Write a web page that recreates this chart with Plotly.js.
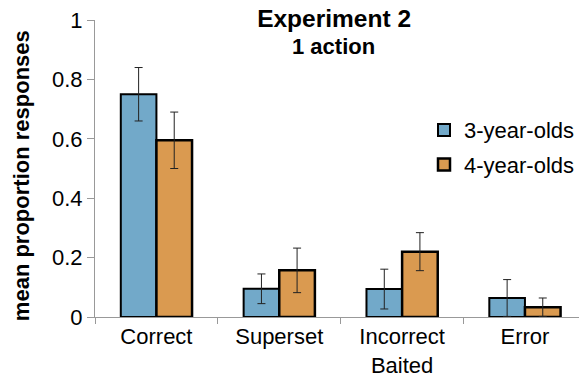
<!DOCTYPE html>
<html>
<head>
<meta charset="utf-8">
<script src="https://cdn.plot.ly/plotly-3.0.1.min.js"></script>
<style>html,body{margin:0;padding:0;background:#fff;}#chart{width:580px;height:387px;}</style>
</head>
<body>
<div id="chart"></div>
<script>
var categories = ['Correct', 'Superset', 'Incorrect<br>Baited', 'Error'];
var seriesNames = ['3-year-olds', '4-year-olds'];
var means3 = [0.75, 0.095, 0.094, 0.064];
var err3 = [0.09, 0.05, 0.067, 0.062];
var means4 = [0.595, 0.157, 0.22, 0.033];
var err4 = [0.095, 0.075, 0.064, 0.031];
var yTicks = [0, 0.2, 0.4, 0.6, 0.8, 1];
var yTickText = ['0', '0.2', '0.4', '0.6', '0.8', '1'];
var titleText = 'Experiment 2';
var subtitleText = '1 action';
var yTitleText = 'mean proportion responses';

var FONT = 'Liberation Sans, Arial, sans-serif';

function barTrace(name, y, e, fill, lw, grp) {
  return {
    type: 'bar', name: name, x: categories, y: y,
    legendgroup: grp,
    marker: {color: fill, line: {color: '#000', width: lw}},
    error_y: {type: 'data', array: e, visible: true, color: '#222', thickness: 1, width: 4}
  };
}

var data = [
  barTrace(seriesNames[0], means3, err3, '#72A9C9', 2, 'g3'),
  barTrace(seriesNames[1], means4, err4, '#DA9A50', 2.5, 'g4')
];

var layout = {
  width: 580, height: 387,
  margin: {l: 95, r: 0, t: 20, b: 70, pad: 0},
  paper_bgcolor: '#fff', plot_bgcolor: '#fff',
  font: {family: FONT, size: 22, color: '#000'},
  barmode: 'group', bargap: 0.42, bargroupgap: 0,
  showlegend: true,
  legend: {x: 0.68, xanchor: 'left', y: 0.70, yanchor: 'top',
    traceorder: 'grouped', tracegroupgap: 3,
    font: {family: FONT, size: 22, color: '#000'}, bgcolor: 'rgba(0,0,0,0)'},
  title: {
    text: '<b>' + titleText + '</b>',
    font: {family: FONT, size: 24.5, color: '#000'},
    x: 0.576, xanchor: 'center', xref: 'container', y: 0.953, yanchor: 'middle', yref: 'container'
  },
  xaxis: {
    range: [-0.5, 3.44], fixedrange: true,
    showline: true, linecolor: '#999', linewidth: 1,
    ticks: 'outside', tickson: 'boundaries', ticklen: 6, tickcolor: '#999',
    showgrid: false, zeroline: false,
    tickfont: {family: FONT, size: 22, color: '#000'}
  },
  yaxis: {
    range: [0, 1], tickvals: yTicks, ticktext: yTickText,
    showline: true, linecolor: '#999', linewidth: 1,
    ticks: 'outside', ticklen: 7, tickcolor: '#999',
    showgrid: false, zeroline: false,
    tickfont: {family: FONT, size: 22, color: '#000'}
  },
  annotations: [{
    text: '<b>' + yTitleText + '</b>', textangle: -90,
    xref: 'paper', yref: 'paper', x: -0.1526, y: 0.4747,
    xanchor: 'center', yanchor: 'middle', showarrow: false,
    font: {family: FONT, size: 22, color: '#000'}
  }, {
    text: '<b>' + subtitleText + '</b>',
    xref: 'paper', yref: 'paper', x: (334 - 95) / 485, y: (317 - 46) / 297,
    xanchor: 'center', yanchor: 'middle', showarrow: false,
    font: {family: FONT, size: 22, color: '#000'}
  }]
};

Plotly.newPlot('chart', data, layout, {displayModeBar: false, staticPlot: true});
</script>
</body>
</html>
